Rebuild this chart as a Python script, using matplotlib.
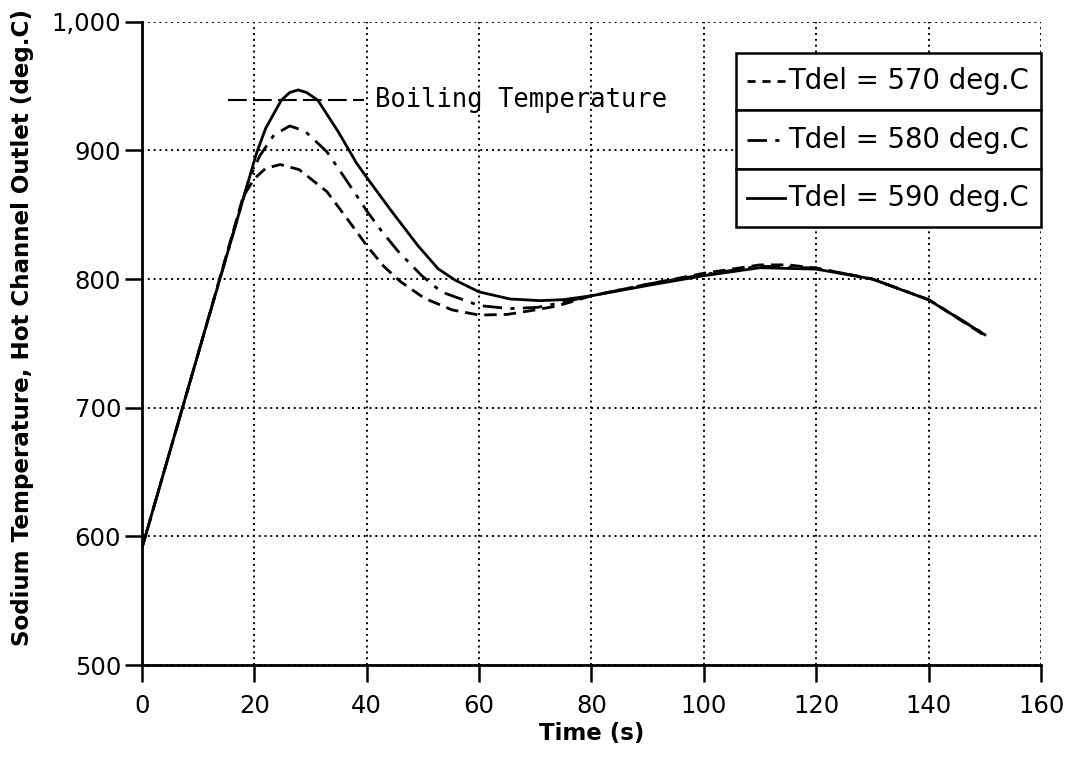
import matplotlib
matplotlib.use('Agg')
import matplotlib.pyplot as plt
from matplotlib.patches import Rectangle
from matplotlib.ticker import FuncFormatter

# Tdel = 570 deg.C (dashed)
t_570 = [0, 10, 18, 20, 22, 24.6, 28, 32.9, 36.5, 40, 43, 46, 50.3, 55.2, 60, 65, 70, 73.8, 77, 80, 90, 100, 110, 115, 120, 130, 140, 150]
T_570 = [591, 742, 864, 878, 886, 889, 885, 868, 847, 826, 810, 798, 785, 776, 772, 772.5, 776, 779, 783, 787, 796, 804.5, 811, 811, 808.5, 800, 784, 756]

# Tdel = 580 deg.C (dash-dot)
t_580 = [0, 10, 19, 21, 23.5, 26.3, 29, 32.9, 36.5, 40, 42.7, 45.5, 49.7, 53.3, 60, 65.5, 70.4, 75, 80, 90, 100, 110, 120, 130, 140, 150]
T_580 = [591, 742, 877, 896, 912, 919, 915, 899, 876, 853, 837, 822, 803, 790, 779.4, 777, 778, 782, 787, 796, 803.5, 810, 808.5, 800, 784, 757]

# Tdel = 590 deg.C (solid)
t_590 = [0, 10, 20.4, 22, 24.8, 26.3, 27.8, 29.3, 31.3, 35, 38.2, 40, 44.2, 49.1, 52.7, 55.8, 60, 65.5, 70.9, 75, 80, 90, 100, 110, 120, 130, 140, 150]
T_590 = [591, 742, 898, 917, 939, 945, 947, 945, 939, 914, 890, 879, 854, 826, 808, 799, 790, 784.5, 783.2, 784, 787, 795, 802.6, 808.8, 807.7, 800, 783.8, 756.7]

boil_t = [15.3, 39.5]
boil_T = [939, 939]

legend_labels = ['Tdel = 570 deg.C', 'Tdel = 580 deg.C', 'Tdel = 590 deg.C']
x_ticks = [0, 20, 40, 60, 80, 100, 120, 140, 160]
y_ticks = [500, 600, 700, 800, 900, 1000]

fig = plt.figure(figsize=(10.73, 7.57), dpi=100)
ax = fig.add_axes([0.1323, 0.1215, 0.8379, 0.8498])

ls_570 = (0, (4.5, 2.5))
ls_580 = (0, (7, 3, 1.5, 3))
ax.plot(t_570, T_570, color='black', lw=2, linestyle=ls_570)
ax.plot(t_580, T_580, color='black', lw=2, linestyle=ls_580)
ax.plot(t_590, T_590, color='black', lw=2, linestyle='-')

# boiling temperature marker
ax.plot(boil_t, boil_T, color='black', lw=1.5, linestyle=(0, (9, 3)))
ax.text(41.5, 939, 'Boiling Temperature', fontsize=18.4, family='DejaVu Sans Mono',
        va='center', ha='left')

ax.set_xlim(0, 160)
ax.set_ylim(500, 1000)
ax.set_xticks(x_ticks)
ax.set_yticks(y_ticks)
ax.yaxis.set_major_formatter(FuncFormatter(lambda v, p: '{:,.0f}'.format(v)))
ax.tick_params(direction='out', length=12, width=1.8, labelsize=17.5, pad=9)
ax.tick_params(axis='y', pad=3)
ax.grid(True, color='black', linestyle=(0, (1, 2)), lw=1.4)
ax.spines['top'].set_visible(False)
ax.spines['right'].set_visible(False)
ax.spines['left'].set_linewidth(2)
ax.spines['bottom'].set_linewidth(2)

ax.set_xlabel('Time (s)', fontsize=16.5, fontweight='bold', labelpad=3)
ax.set_ylabel('Sodium Temperature, Hot Channel Outlet (deg.C)', fontsize=16.6, fontweight='bold')
ax.yaxis.set_label_coords(-0.12, 0.524)

# legend: three stacked boxes
row_edges = [0.9518, 0.8628, 0.7706, 0.6809]
styles = [(0, (2.9, 2.5)), ls_580, '-']
for i in range(3):
    y0 = row_edges[i + 1]
    h = row_edges[i] - row_edges[i + 1]
    ax.add_patch(Rectangle((0.6607, y0), 1.0 - 0.6607, h, transform=ax.transAxes,
                           facecolor='white', edgecolor='black', lw=1.8, zorder=5, clip_on=False))
    ym = y0 + h / 2
    ax.plot([0.6726, 0.7152], [ym, ym], transform=ax.transAxes, color='black', lw=2,
            linestyle=styles[i], zorder=6, clip_on=False)
    ax.text(0.7186, ym, legend_labels[i], transform=ax.transAxes, fontsize=19.8,
            va='center', ha='left', zorder=7)

fig.savefig('out.png', dpi=100)
